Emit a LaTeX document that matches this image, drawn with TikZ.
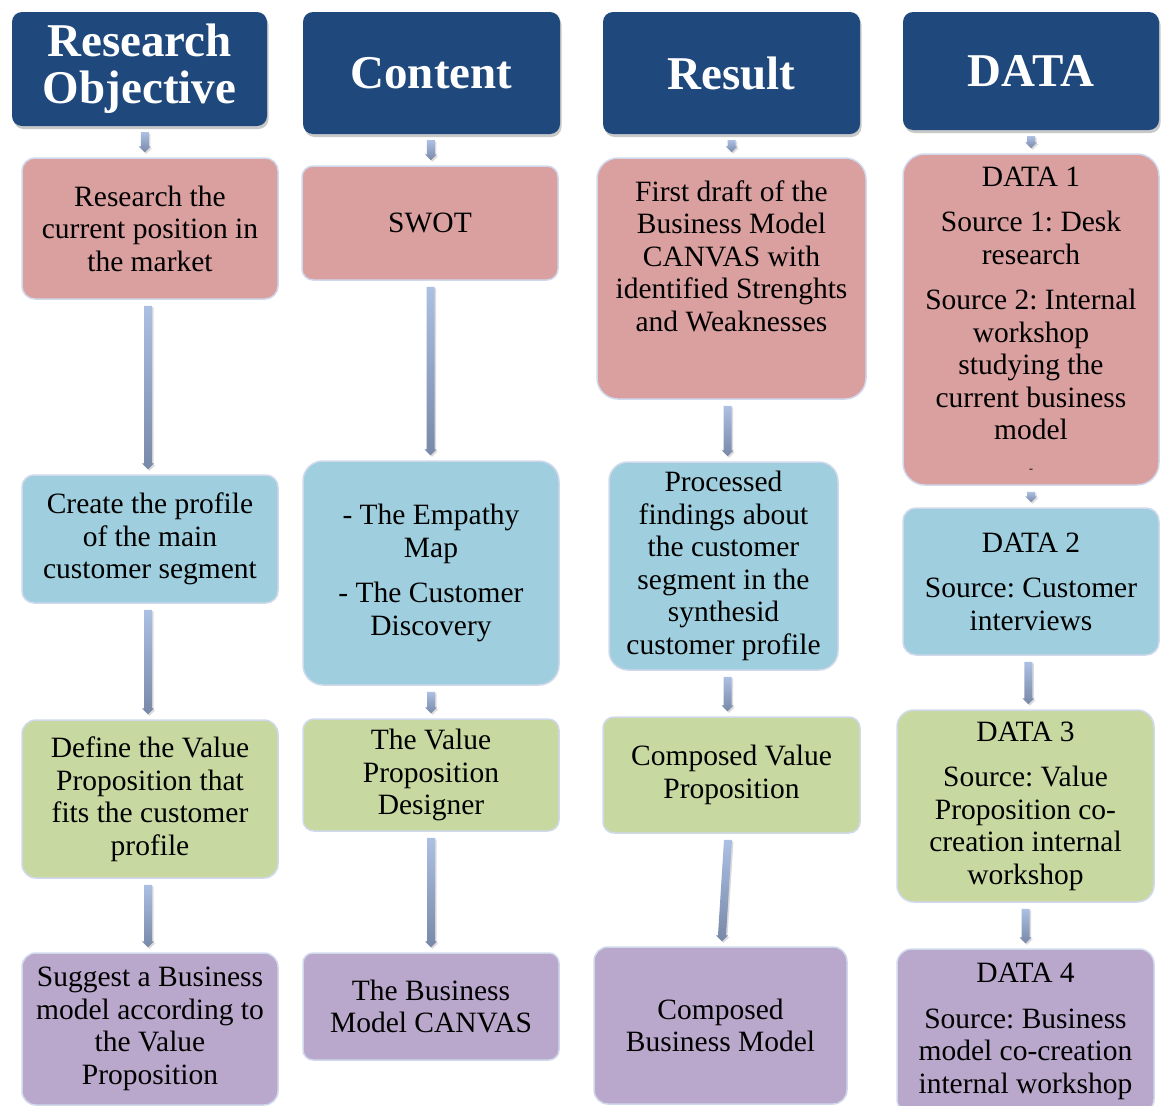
\documentclass[tikz,border=0pt]{standalone}
\usepackage{fontspec}
\setmainfont{Liberation Serif}
\frenchspacing
\usetikzlibrary{calc,shadows}

\definecolor{headblue}{RGB}{31,73,125}
\definecolor{redfill}{RGB}{218,159,159}
\definecolor{bluefill}{RGB}{159,207,222}
\definecolor{greenfill}{RGB}{200,216,161}
\definecolor{purplefill}{RGB}{185,168,204}
\definecolor{boxedge}{RGB}{208,217,236}
\definecolor{arrtop}{RGB}{172,192,228}
\definecolor{arrbot}{RGB}{120,136,168}

\tikzset{
  headbox/.style={fill=headblue, draw=none, rounded corners=10pt, inner sep=0pt,
    drop shadow={shadow xshift=1.5pt, shadow yshift=-3pt, opacity=0.3, fill=black!70}},
  headtext/.style={text=white, align=center, inner sep=0pt,
    font=\fontsize{47}{47}\selectfont\bfseries},
  stepbox/.style={draw=boxedge, line width=1.5pt, inner sep=0pt},
  redbox/.style={stepbox, fill=redfill},
  bluebox/.style={stepbox, fill=bluefill},
  greenbox/.style={stepbox, fill=greenfill},
  purplebox/.style={stepbox, fill=purplefill},
  boxtext/.style={text=black, align=center, inner sep=0pt,
    font=\fontsize{29.5}{32.5}\selectfont},
}

% vertical block arrow with a small head, from below node #1 to above node #2;
% #3 and #4 shift the start and the tip sideways
\newcommand\flowarrow[4]{%
  \coordinate (fa-m) at ($(#1.south)!0.5!(#2.north)$);
  \coordinate (fa-s) at ($(fa-m |- #1.south)+(#3pt,-6pt)$);
  \coordinate (fa-e) at ($(fa-m |- #2.north)+(#4pt,5pt)$);
  \fill[black, opacity=0.14]
    ($(fa-s)+(-2.5pt,-1.5pt)$) -- ($(fa-s)+(5.5pt,-1.5pt)$) -- ($(fa-e)+(5.5pt,4.5pt)$) --
    ($(fa-e)+(7.5pt,4.5pt)$) -- ($(fa-e)+(1.5pt,-1.5pt)$) -- ($(fa-e)+(-4.5pt,4.5pt)$) --
    ($(fa-e)+(-2.5pt,4.5pt)$) -- cycle;
  \shade[top color=arrtop, bottom color=arrbot]
    ($(fa-s)+(-4pt,0pt)$) -- ($(fa-s)+(4pt,0pt)$) -- ($(fa-e)+(4pt,6pt)$) --
    ($(fa-e)+(6pt,6pt)$) -- (fa-e) -- ($(fa-e)+(-6pt,6pt)$) --
    ($(fa-e)+(-4pt,6pt)$) -- cycle;
}

\begin{document}
\begin{tikzpicture}[x=1pt, y=-1pt]
  \clip (0,0) rectangle (1165,1106);
  \fill[white] (0,0) rectangle (1165,1106);

  % column headers
  \node[headbox, minimum width=255pt, minimum height=114pt] (h1) at (139.5,69) {};
  \node[headtext] (h1t) at (h1) {Research\\Objective};
  \node[headbox, minimum width=257pt, minimum height=122pt] (h2) at (431.5,73) {};
  \node[headtext] (h2t) at (h2) {Content};
  \node[headbox, minimum width=257pt, minimum height=122pt] (h3) at (731.5,73) {};
  \node[headtext] (h3t) at (h3) {Result};
  \node[headbox, minimum width=256pt, minimum height=118pt] (h4) at (1031,71) {};
  \node[headtext] (h4t) at (h4) {DATA};

  % research objective column
  \node[redbox, rounded corners=13pt, minimum width=256pt, minimum height=141pt] (a1) at (150,228.5) {};
  \node[boxtext] (a1t) at (a1) {Research the\\current position in\\the market};
  \node[bluebox, rounded corners=12pt, minimum width=256pt, minimum height=128pt] (a2) at (150,539) {};
  \node[boxtext] (a2t) at (a2) {Create the profile\\of the main\\customer segment};
  \node[greenbox, rounded corners=14pt, minimum width=256pt, minimum height=158pt] (a3) at (150,799) {};
  \node[boxtext] (a3t) at (a3) {Define the Value\\Proposition that\\fits the customer\\profile};
  \node[purplebox, rounded corners=14pt, minimum width=256pt, minimum height=152pt] (a4) at (150,1029) {};
  \node[boxtext] (a4t) at (a4) {Suggest a Business\\model according to\\the Value\\Proposition};

  % content column
  \node[redbox, rounded corners=11pt, minimum width=256pt, minimum height=114pt] (b1) at (430,223) {};
  \node[boxtext] (b1t) at (b1) {SWOT};
  \node[bluebox, rounded corners=20pt, minimum width=256pt, minimum height=224pt] (b2) at (431,573) {};
  \node[boxtext] (b2t) at (b2) {- The Empathy\\Map\\[13pt]- The Customer\\Discovery};
  \node[greenbox, rounded corners=11pt, minimum width=256pt, minimum height=112pt] (b3) at (431,775) {};
  \node[boxtext] (b3t) at (b3) {The Value\\Proposition\\Designer};
  \node[purplebox, rounded corners=10pt, minimum width=256pt, minimum height=107pt] (b4) at (431,1006.5) {};
  \node[boxtext] (b4t) at (b4) {The Business\\Model CANVAS};

  % result column
  \node[redbox, rounded corners=21pt, minimum width=269pt, minimum height=241pt] (c1) at (731.5,278.5) {};
  \node[boxtext] (c1t) at (c1) {First draft of the\\Business Model\\CANVAS with\\identified Strenghts\\and Weaknesses\\[13pt]\mbox{}};
  \node[bluebox, rounded corners=19pt, minimum width=229pt, minimum height=208pt] (c2) at (723.5,566) {};
  \node[boxtext] (c2t) at (c2) {Processed\\findings about\\the customer\\segment in the\\synthesid\\customer profile};
  \node[greenbox, rounded corners=11pt, minimum width=257pt, minimum height=116pt] (c3) at (731.5,775) {};
  \node[boxtext] (c3t) at (c3) {Composed Value\\Proposition};
  \node[purplebox, rounded corners=14pt, minimum width=253pt, minimum height=157pt] (c4) at (720.5,1025.5) {};
  \node[boxtext] (c4t) at (c4) {Composed\\Business Model};

  % data column
  \node[redbox, rounded corners=22pt, minimum width=256pt, minimum height=331pt] (d1) at (1031,319.5) {};
  \node[boxtext] (d1t) at (d1) {DATA 1\\[13pt]Source 1: Desk\\research\\[13pt]Source 2: Internal\\workshop\\studying the\\current business\\model\\{\fontsize{12}{12}\selectfont -}};
  \node[bluebox, rounded corners=13pt, minimum width=256pt, minimum height=147pt] (d2) at (1031,581.5) {};
  \node[boxtext] (d2t) at (d2) {DATA 2\\[13pt]Source: Customer\\interviews};
  \node[greenbox, rounded corners=17pt, minimum width=257pt, minimum height=192pt] (d3) at (1025.5,806) {};
  \node[boxtext] (d3t) at (d3) {DATA 3\\[13pt]Source: Value\\Proposition co-\\creation internal\\workshop};
  \node[purplebox, rounded corners=15pt, minimum width=257pt, minimum height=165pt] (d4) at (1025.5,1031.5) {};
  \node[boxtext] (d4t) at (d4) {DATA 4\\[13pt]Source: Business\\model co-creation\\internal workshop};

  % arrows
  \flowarrow{h1}{a1}{0}{0}
  \flowarrow{a1}{a2}{-2}{-2}
  \flowarrow{a2}{a3}{-2}{-2}
  \flowarrow{a3}{a4}{-2}{-2}
  \flowarrow{h2}{b1}{0}{0}
  \flowarrow{b1}{b2}{0}{0}
  \flowarrow{b2}{b3}{0}{0}
  \flowarrow{b3}{b4}{0}{0}
  \flowarrow{h3}{c1}{0}{0}
  \flowarrow{c1}{c2}{0}{0}
  \flowarrow{c2}{c3}{0}{0}
  \flowarrow{c3}{c4}{2}{-4}
  \flowarrow{h4}{d1}{0}{0}
  \flowarrow{d1}{d2}{0}{0}
  \flowarrow{d2}{d3}{0}{0}
  \flowarrow{d3}{d4}{0}{0}
\end{tikzpicture}
\end{document}
